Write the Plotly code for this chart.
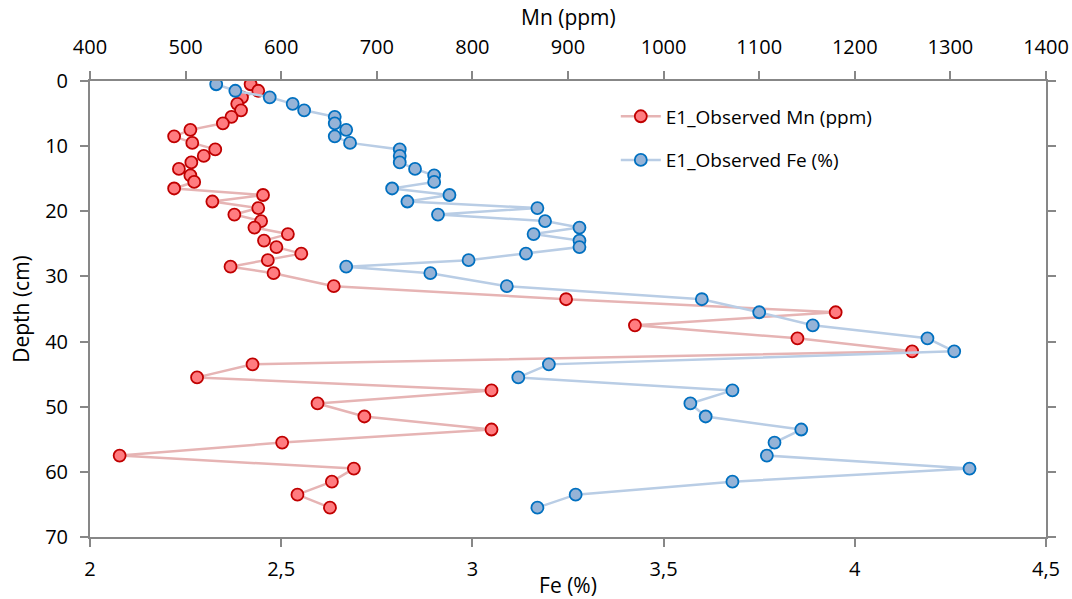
import plotly.graph_objects as go

# Sampling depths (cm), midpoints of core slices
depth = [0.5, 1.5, 2.5, 3.5, 4.5, 5.5, 6.5, 7.5, 8.5, 9.5,
         10.5, 11.5, 12.5, 13.5, 14.5, 15.5, 16.5, 17.5, 18.5, 19.5,
         20.5, 21.5, 22.5, 23.5, 24.5, 25.5, 26.5, 27.5, 28.5, 29.5,
         31.5, 33.5, 35.5, 37.5, 39.5, 41.5, 43.5, 45.5, 47.5, 49.5,
         51.5, 53.5, 55.5, 57.5, 59.5, 61.5, 63.5, 65.5]

# Observed manganese (ppm)
mn_ppm = [568, 576, 559, 554, 558, 548, 539, 505, 488, 507,
          531, 519, 506, 493, 505, 509, 488, 581, 528, 576,
          551, 579, 572, 607, 582, 595, 621, 586, 547, 592,
          655, 898, 1180, 970, 1140, 1260, 570, 512, 820, 638,
          687, 820, 601, 431, 676, 653, 617, 651]

# Observed iron (%)
fe_pct = [2.33, 2.38, 2.47, 2.53, 2.56, 2.64, 2.64, 2.67, 2.64, 2.68,
          2.81, 2.81, 2.81, 2.85, 2.90, 2.90, 2.79, 2.94, 2.83, 3.17,
          2.91, 3.19, 3.28, 3.16, 3.28, 3.28, 3.14, 2.99, 2.67, 2.89,
          3.09, 3.60, 3.75, 3.89, 4.19, 4.26, 3.20, 3.12, 3.68, 3.57,
          3.61, 3.86, 3.79, 3.77, 4.30, 3.68, 3.27, 3.17]

mn_ticks = [400, 500, 600, 700, 800, 900, 1000, 1100, 1200, 1300, 1400]
fe_ticks = [2, 2.5, 3, 3.5, 4, 4.5]
fe_tick_labels = ["2", "2,5", "3", "3,5", "4", "4,5"]
depth_ticks = [0, 10, 20, 30, 40, 50, 60, 70]

FONT = "Open Sans, Liberation Sans, sans-serif"
AXIS_GREY = "#878787"

fig = go.Figure()

fig.add_trace(go.Scatter(
    x=mn_ppm, y=depth, name="E1_Observed Mn (ppm)",
    xaxis="x", yaxis="y", mode="lines+markers",
    line=dict(color="#E6B4B4", width=2.5),
    marker=dict(size=12, color="#FF7C80", line=dict(color="#C00000", width=1.8)),
    legendgroup="mn",
))

fig.add_trace(go.Scatter(
    x=fe_pct, y=depth, name="E1_Observed Fe (%)",
    xaxis="x2", yaxis="y", mode="lines+markers",
    line=dict(color="#B9CDE5", width=2.5),
    marker=dict(size=12, color="#95B3D7", line=dict(color="#0070C0", width=1.8)),
    legendgroup="fe",
))

axis_common = dict(
    showgrid=False, zeroline=False, automargin=False,
    showline=True, linecolor=AXIS_GREY, linewidth=2,
    ticks="outside", ticklen=8, tickwidth=2, tickcolor=AXIS_GREY,
    tickfont=dict(family=FONT, size=20, color="#000000"),
)

fig.update_layout(
    width=1072, height=599,
    margin=dict(l=90, r=26, t=81, b=62),
    paper_bgcolor="white", plot_bgcolor="white",
    font=dict(family=FONT, color="#000000"),
    xaxis=dict(
        **axis_common, side="top", range=[400, 1400],
        tickvals=mn_ticks, ticktext=[str(v) for v in mn_ticks],
        ticklabelstandoff=9,
    ),
    xaxis2=dict(
        **axis_common, side="bottom", overlaying="x", anchor="y", range=[2, 4.5],
        tickvals=fe_ticks, ticktext=fe_tick_labels,
        ticklabelstandoff=5,
        title=dict(text="Fe (%)", font=dict(family=FONT, size=21), standoff=0),
    ),
    yaxis=dict(
        **axis_common, range=[70, 0], mirror="ticks",
        tickvals=depth_ticks, ticktext=[str(v) for v in depth_ticks],
        ticklabelstandoff=8,
        title=dict(text="Depth (cm)", font=dict(family=FONT, size=21), standoff=10),
    ),
    legend=dict(
        x=0.55, y=0.964, xanchor="left", yanchor="top",
        bgcolor="rgba(0,0,0,0)", traceorder="grouped", tracegroupgap=16,
        font=dict(family=FONT, size=19, color="#000000"),
        itemwidth=40,
    ),
    annotations=[dict(
        text="Mn (ppm)", xref="paper", yref="paper", x=0.5, y=1.141,
        xanchor="center", yanchor="middle", showarrow=False,
        font=dict(family=FONT, size=21, color="#000000"),
    )],
    showlegend=True,
)

fig.write_html("out.html")
